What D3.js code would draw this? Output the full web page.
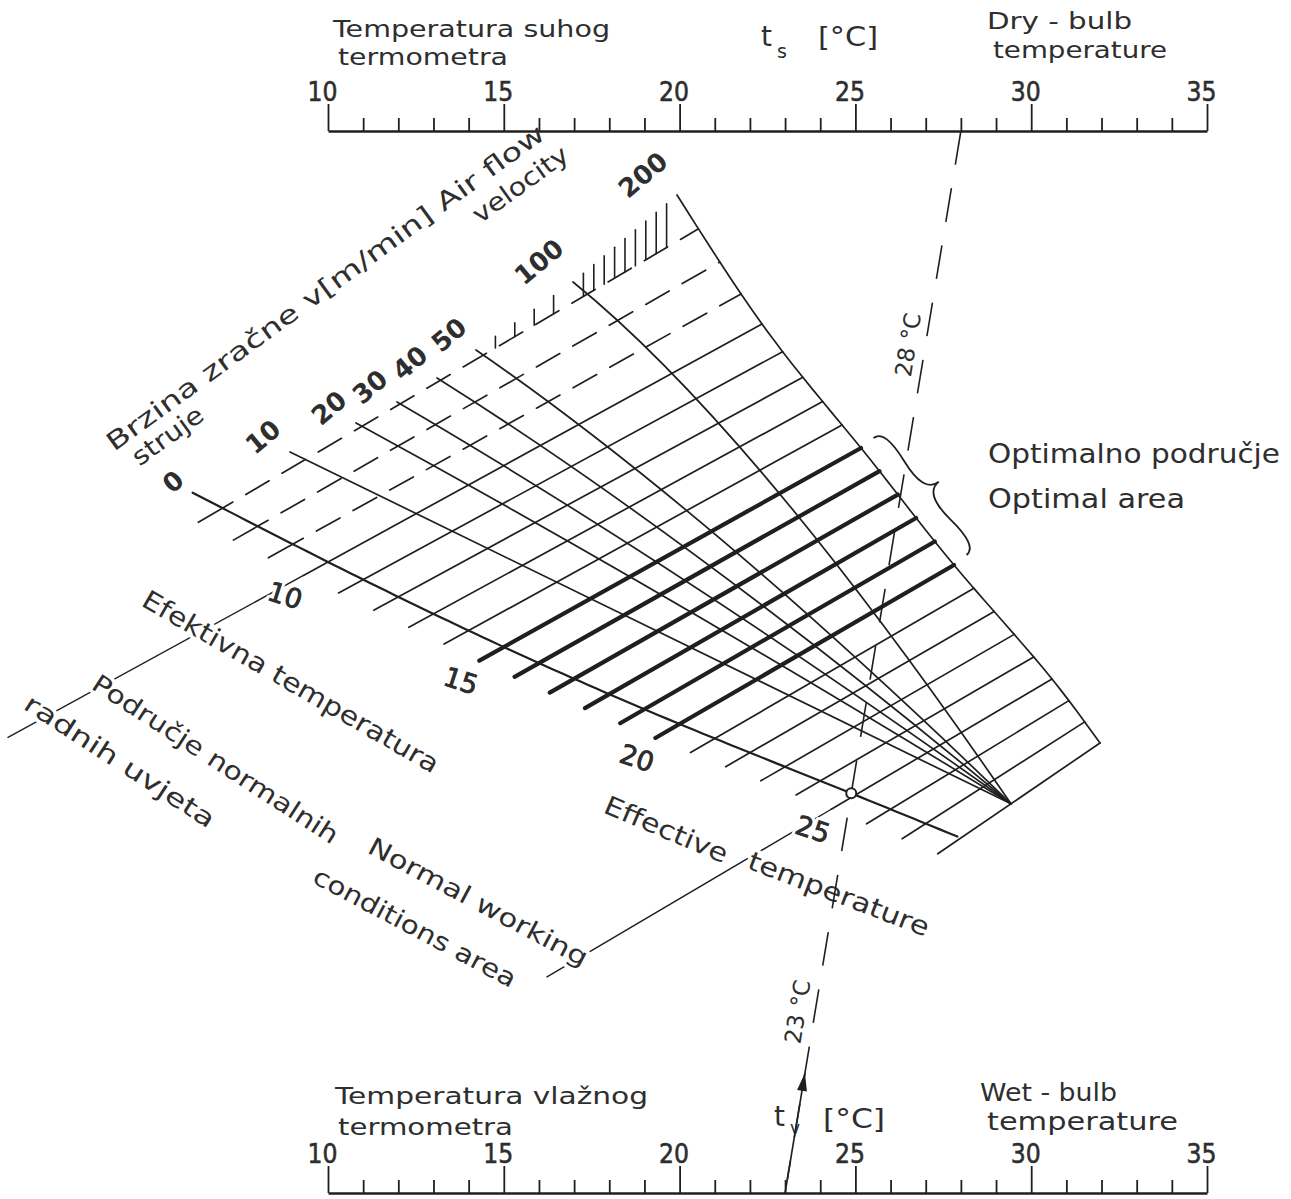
<!DOCTYPE html>
<html><head><meta charset="utf-8">
<script src="https://cdnjs.cloudflare.com/ajax/libs/d3/7.8.5/d3.min.js"></script>
<style>
body{margin:0;background:#fff;}
svg{display:block;}
text{font-family:"DejaVu Sans","Noto Sans",sans-serif;fill:#2e2e2e;}
</style></head><body>
<svg id="chart" width="1291" height="1199"></svg>
<script>
// ---- values ----
const tempTicks = d3.range(10, 36);              // °C, both thermometer scales
const tempMajor = [10, 15, 20, 25, 30, 35];
const etValues = d3.range(7, 29);                // effective temperature lines, °C
const etLabels = [10, 15, 20, 25];
const etDashedBelow = 10;                        // ET lines under this value are extrapolated
const optimalET = [15, 16, 17, 18, 19, 20];
const normalBounds = [10, 25];
const velocities = [0, 10, 20, 30, 40, 50, 100, 200];           // m/min
const minorVelocities = [60, 70, 80, 90, 110, 120, 130, 140, 150, 160, 170, 180, 190];
const etFirst = 6, etLast = 28;
const dryReading = 28, wetReading = 23;
const optimalSpan = [15, 20];

// ---- layout ----
const svg = d3.select("#chart");
const ink = "#1f1f1f";
const topY = 131, botY = 1193;
const tScale = d3.scaleLinear().domain([10, 35]).range([328, 1207]);

function spline(xs, ys) {
  const n = xs.length, h = [], al = [], l = [1], mu = [0], z = [0];
  for (let i = 0; i < n - 1; i++) h[i] = xs[i + 1] - xs[i];
  for (let i = 1; i < n - 1; i++) al[i] = 3 / h[i] * (ys[i + 1] - ys[i]) - 3 / h[i - 1] * (ys[i] - ys[i - 1]);
  for (let i = 1; i < n - 1; i++) { l[i] = 2 * (xs[i + 1] - xs[i - 1]) - h[i - 1] * mu[i - 1]; mu[i] = h[i] / l[i]; z[i] = (al[i] - h[i - 1] * z[i - 1]) / l[i]; }
  z[n - 1] = 0;
  const c = new Array(n).fill(0), b = [], d = [];
  for (let j = n - 2; j >= 0; j--) { c[j] = z[j] - mu[j] * c[j + 1]; b[j] = (ys[j + 1] - ys[j]) / h[j] - h[j] * (c[j + 1] + 2 * c[j]) / 3; d[j] = (c[j + 1] - c[j]) / (3 * h[j]); }
  return x => { const i = Math.max(0, Math.min(n - 2, d3.bisectRight(xs, x) - 1)); const dx = x - xs[i]; return ys[i] + b[i] * dx + c[i] * dx * dx + d[i] * dx * dx * dx; };
}

// still-air curve: x follows the temperature scale, y bends downward
const knotsET = [6, 10, 15, 20, 25, 28];
const stillY = spline(knotsET, [490, 562, 647, 724, 795, 838]);
// 200 m/min curve (outer boundary of the grid)
const fastX = spline(knotsET, [677, 762, 861, 954, 1052, 1100]);
const fastY = spline(knotsET, [195, 324, 448, 565, 679, 743]);
const still = T => [tScale(T), stillY(T)];
const fast = T => [fastX(T), fastY(T)];
// heads of the velocity curves along the upper-left edge
const headX = d3.scaleLinear().domain(velocities).range([193, 290, 356, 397, 437, 476, 573, 677]);
const headY = d3.scaleLinear().domain(velocities).range([492, 452, 423, 402, 378, 350, 282, 195]);
// intermediate curves meet on the last ET line; bend grows with velocity
const meetShare = 0.36;
const bend = d3.scaleLinear().domain([10, 20, 30, 40, 50, 100]).range([0, .2, .35, .5, .62, 1]).clamp(true);

function lerp(a, b, f) { return [a[0] + f * (b[0] - a[0]), a[1] + f * (b[1] - a[1])]; }
function unit(a, b) { const dx = b[0] - a[0], dy = b[1] - a[1], L = Math.hypot(dx, dy); return [dx / L, dy / L, L]; }
const meet = lerp(still(etLast), fast(etLast), meetShare);

function velocityPath(v) {
  if (v === 0) return d3.line()(d3.range(6.15, etLast + 0.001, 0.25).map(still));
  if (v === 200) return d3.line().curve(d3.curveCatmullRom)(d3.range(etFirst, etLast + 0.001, 0.5).map(fast));
  const s = [headX(v), headY(v)];
  const [ux, uy, L] = unit(s, meet);
  const m = lerp(s, meet, 0.5), k = bend(v) * L;
  const ctrl = [m[0] + k * (-0.166 * ux + 0.065 * uy), m[1] + k * (-0.166 * uy - 0.065 * ux)];
  const p = d3.path(); p.moveTo(s[0], s[1]); p.quadraticCurveTo(ctrl[0], ctrl[1], meet[0], meet[1]);
  return p.toString();
}

// ---- thermometer scales ----
function tempAxis(y) {
  const g = svg.append("g").attr("transform", `translate(0,${y})`);
  g.call(d3.axisTop(tScale).tickValues(tempTicks).tickSizeOuter(0).tickSizeInner(13).tickPadding(8)
    .tickFormat(d => tempMajor.includes(d) ? d : ""));
  g.select(".domain").attr("stroke", ink).attr("stroke-width", 2.6);
  g.selectAll(".tick line").attr("stroke", ink).attr("stroke-width", 1.8)
    .attr("y2", d => tempMajor.includes(d) ? -27 : -13);
  g.selectAll(".tick text").attr("font-size", 27).attr("fill", "#2e2e2e")
    .attr("stroke", "#2e2e2e").attr("stroke-width", 0.6)
    .attr("x", -6).attr("y", -30).attr("dy", 0)
    .attr("textLength", d => tempMajor.includes(d) ? 30 : null).attr("lengthAdjust", "spacingAndGlyphs")
    .style("font-family", "'DejaVu Sans',sans-serif");
}
tempAxis(topY);
tempAxis(botY);

function txt(s, x, y, size, len, rot, extra) {
  const t = svg.append("text").attr("x", x).attr("y", y).attr("font-size", size).text(s);
  if (len) t.attr("textLength", len).attr("lengthAdjust", "spacingAndGlyphs");
  if (rot) t.attr("transform", `rotate(${rot},${x},${y})`);
  if (extra) extra(t);
  return t;
}
// top captions
txt("Temperatura suhog", 333, 37, 23, 277);
txt("termometra", 338, 65, 23, 170);
txt("t", 761, 46, 28);
txt("s", 777, 58, 19);
txt("[°C]", 818, 46, 26, 60);
txt("Dry - bulb", 987, 29, 23, 145);
txt("temperature", 993, 58, 23, 174);
// bottom captions
txt("Temperatura  vlažnog", 335, 1104, 23, 313);
txt("termometra", 338, 1135, 23, 175);
txt("t", 774, 1126, 28);
txt("v", 790, 1134, 17);
txt("[°C]", 823, 1128, 26, 62);
txt("Wet - bulb", 980, 1101, 24, 137);
txt("temperature", 987, 1130, 24, 191);

// ---- nomogram grid ----
const grid = svg.append("g").attr("fill", "none").attr("stroke", ink).attr("stroke-linecap", "round");

// velocity curves
velocities.forEach(v => {
  grid.append("path").attr("d", velocityPath(v)).attr("stroke-width", v === 0 ? 2.2 : 1.7);
});

// effective temperature lines
const etLine = T => { const a = still(T), b = fast(T); return { a, b, u: unit(a, b) }; };
etValues.forEach(T => {
  const { a, b, u: [ux, uy] } = etLine(T);
  const tick = 28;
  const lo = [a[0] - ux * tick, a[1] - uy * tick];
  const thick = optimalET.includes(T);
  if (T < etDashedBelow) {
    grid.append("path").attr("d", d3.line()([lo, [a[0] + ux * 12, a[1] + uy * 12]])).attr("stroke-width", 1.7);
    grid.append("path").attr("d", d3.line()([[a[0] + ux * 27, a[1] + uy * 27], b]))
      .attr("stroke-width", 1.7).attr("stroke-dasharray", "27,15");
  } else {
    grid.append("path").attr("d", d3.line()([lo, b])).attr("stroke-width", thick ? 4.2 : 1.7);
  }
});

// short stubs of the intermediate velocities, hanging down to the first ET line
const first = etLine(7);
minorVelocities.forEach(v => {
  const x = headX(v), y = headY(v);
  const yb = first.a[1] + (x - first.a[0]) * first.u[1] / first.u[0];
  grid.append("path").attr("d", d3.line()([[x, y], [x, Math.max(yb, y + 10)]])).attr("stroke-width", 1.6);
});

// boundaries of the normal working conditions area (extended ET lines)
const normalEnds = { 10: 8, 25: 547 };
normalBounds.forEach(T => {
  const { a, u: [ux, uy] } = etLine(T);
  const k = (a[0] - normalEnds[T]) / ux;
  grid.append("path").attr("d", d3.line()([[a[0] - ux * 28, a[1] - uy * 28], [a[0] - ux * k, a[1] - uy * k]]))
    .attr("stroke-width", 1.4);
});

// ---- labels; a white halo breaks the lines around them ----
function halo(t) { t.attr("stroke", "#fff").attr("stroke-width", 7).attr("paint-order", "stroke").attr("stroke-linejoin", "round"); }

velocities.forEach(v => {
  const n = String(v).length;
  const x = headX(v) - (12 + 7 * n), y = headY(v) - (4 + 5 * n);
  svg.append("text").attr("x", x).attr("y", y).attr("font-size", 26).attr("font-weight", "bold")
    .attr("text-anchor", "middle").attr("dominant-baseline", "middle")
    .attr("transform", `rotate(-40,${x},${y})`).attr("fill", "#2a2a2a").text(v);
});
etLabels.forEach(T => {
  const { a, u: [ux, uy] } = etLine(T);
  const x = a[0] - ux * 28 - 19, y = a[1] - uy * 28 + 22;
  const lab = svg.append("g").attr("transform", `rotate(18,${x},${y})`);
  lab.append("text").attr("x", x).attr("y", y).attr("font-size", 27)
    .attr("text-anchor", "middle").attr("dominant-baseline", "middle").text(T).call(halo);
  lab.append("text").attr("x", x).attr("y", y).attr("font-size", 27)
    .attr("text-anchor", "middle").attr("dominant-baseline", "middle")
    .attr("stroke", "#2e2e2e").attr("stroke-width", 0.7).text(T);
});

// rotated captions
const g1 = svg.append("g").attr("transform", "translate(114,452) rotate(-36)");
g1.append("text").attr("font-size", 25).attr("textLength", 535).attr("lengthAdjust", "spacingAndGlyphs").text("Brzina zračne  v[m/min]  Air flow");
g1.append("text").attr("x", 12).attr("y", 27).attr("font-size", 25).attr("textLength", 82).attr("lengthAdjust", "spacingAndGlyphs").text("struje");
g1.append("text").attr("x", 430).attr("y", 31).attr("font-size", 25).attr("textLength", 112).attr("lengthAdjust", "spacingAndGlyphs").text("velocity");

txt("Efektivna temperatura", 140, 605, 26, 338, 30, halo);
txt("Područje normalnih", 90, 688, 25, 288, 33, halo);
txt("radnih uvjeta", 22, 708, 25, 222, 33, halo);
txt("Normal working", 366, 852, 25, 245, 28, halo);
txt("conditions area", 311, 882, 25, 226, 28, halo);
txt("Effective", 602, 812, 26, 132, 23, halo);
txt("temperature", 746, 868, 26, 192, 21, halo);
txt("Optimalno područje", 988, 463, 27, 292);
txt("Optimal area", 988, 508, 27, 197);

// ---- reading example: dry bulb 28 °C, wet bulb 23 °C ----
const r0 = [tScale(dryReading), topY], r1 = [tScale(wetReading), botY];
const rx = y => r0[0] + (y - r0[1]) / (r1[1] - r0[1]) * (r1[0] - r0[0]);
svg.append("path").attr("d", d3.line()([r0, r1])).attr("fill", "none").attr("stroke", ink)
  .attr("stroke-width", 1.6).attr("stroke-dasharray", "34,24");
// crossing with the still-air curve
let lo = 20, hi = 28;
for (let i = 0; i < 40; i++) { const m = (lo + hi) / 2; const p = still(m); if (p[0] - rx(p[1]) < 0) lo = m; else hi = m; }
const cp = still(lo);
svg.append("circle").attr("cx", cp[0]).attr("cy", cp[1]).attr("r", 5).attr("fill", "#fff").attr("stroke", ink).attr("stroke-width", 2);
// arrow on the wet-bulb side
const [ax, ay] = unit(r1, r0);
const tip = [rx(1073), 1073];
svg.append("path").attr("d", `M${tip[0]},${tip[1]} L${tip[0] - ax * 18 - ay * 5},${tip[1] - ay * 18 + ax * 5} L${tip[0] - ax * 18 + ay * 5},${tip[1] - ay * 18 - ax * 5}Z`)
  .attr("fill", ink);
svg.append("path").attr("d", d3.line()([tip, [rx(1180), 1180]])).attr("stroke", ink).attr("stroke-width", 1.6).attr("fill", "none");
// value tags along the reading line
const ang = Math.atan2(r1[1] - r0[1], r1[0] - r0[0]) * 180 / Math.PI - 180;
[[dryReading, 345], [wetReading, 1012]].forEach(([val, y]) => {
  const x = rx(y) - 16;
  svg.append("text").attr("x", x).attr("y", y).attr("font-size", 23).attr("text-anchor", "middle")
    .attr("dominant-baseline", "middle").attr("transform", `rotate(${ang},${x},${y})`).text(`${val} °C`);
});

// ---- optimal area brace, set just outside the 200 m/min curve ----
function brace(x1, y1, x2, y2, w, q) {
  const len = Math.hypot(x1 - x2, y1 - y2), dx = (x1 - x2) / len, dy = (y1 - y2) / len;
  const qx1 = x1 + q * w * dy, qy1 = y1 - q * w * dx;
  const qx2 = (x1 - .25 * len * dx) + (1 - q) * w * dy, qy2 = (y1 - .25 * len * dy) - (1 - q) * w * dx;
  const tx1 = (x1 - .5 * len * dx) + w * dy, ty1 = (y1 - .5 * len * dy) - w * dx;
  const qx3 = x2 + q * w * dy, qy3 = y2 - q * w * dx;
  const qx4 = (x1 - .75 * len * dx) + (1 - q) * w * dy, qy4 = (y1 - .75 * len * dy) - (1 - q) * w * dx;
  return `M${x1},${y1} Q${qx1},${qy1} ${qx2},${qy2} T${tx1},${ty1} M${x2},${y2} Q${qx3},${qy3} ${qx4},${qy4} T${tx1},${ty1}`;
}
const bA = fast(optimalSpan[0]), bB = fast(optimalSpan[1]);
const [bx, by] = unit(bA, bB);
const off = 16;
svg.append("path").attr("d", brace(bA[0] + by * off, bA[1] - bx * off, bB[0] + by * off, bB[1] - bx * off, -24, 0.6))
  .attr("fill", "none").attr("stroke", ink).attr("stroke-width", 1.8);
</script>
</body></html>
